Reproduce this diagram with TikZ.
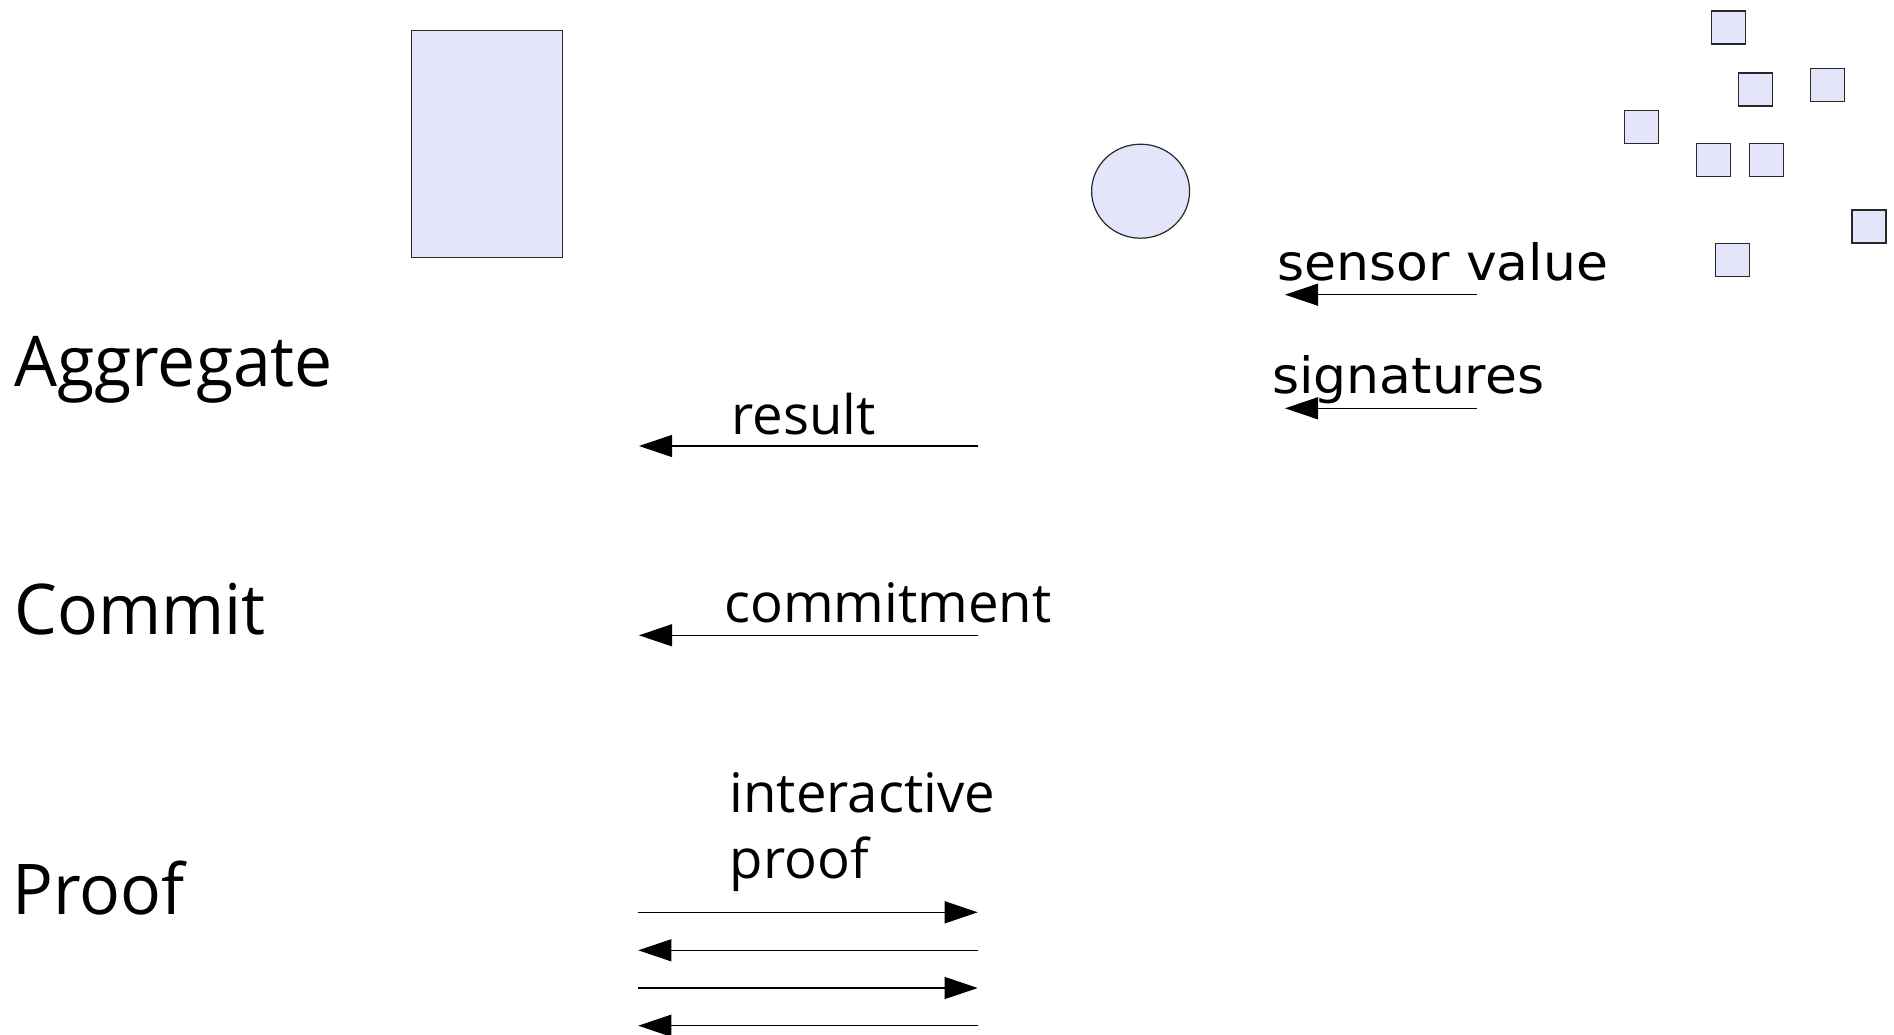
\documentclass[tikz,border=0pt]{standalone}
\usepackage{fontspec}
\usetikzlibrary{arrows.meta,shapes.geometric}
\newfontfamily\msgfont{Open Sans}
\newfontfamily\sidefont[FakeStretch=1.04]{DejaVu Sans}
\newfontfamily\stagefont[FakeStretch=0.97]{Open Sans}
\definecolor{partyfill}{RGB}{228,228,250}
\definecolor{partyedge}{RGB}{40,40,40}
\tikzset{
  party/.style={draw=partyedge, fill=partyfill, line width=1.2pt, inner sep=0pt},
  sensorbox/.style={party, rectangle, minimum width=34pt, minimum height=33pt},
  stagelabel/.style={anchor=base west, inner sep=0pt, font=\stagefont\fontsize{70}{84}\selectfont},
  msglabel/.style={anchor=base west, inner sep=0pt, align=left, font=\msgfont\fontsize{54.5}{66}\selectfont},
  sidelabel/.style={anchor=base west, inner sep=0pt, font=\sidefont\fontsize{50}{60}\selectfont},
  msg/.style={line width=1.2pt, -{Triangle[length=33pt, width=22pt]}}
}
\begin{document}
\begin{tikzpicture}[x=1pt, y=-1pt]
\useasboundingbox (0,0) rectangle (1894,1035);

% parties: verifier, aggregator, sensors
\node[party, rectangle, minimum width=151pt, minimum height=227pt] (verifier) at (487,144) {};
\node[party, ellipse, minimum width=98pt, minimum height=94pt] (aggregator) at (1140.6,191.2) {};
\node[sensorbox] (s1) at (1728.7,27.5) {};
\node[sensorbox] (s2) at (1755.2,89.5) {};
\node[sensorbox] (s3) at (1827.2,84.7) {};
\node[sensorbox] (s4) at (1641.8,127.3) {};
\node[sensorbox] (s5) at (1713.5,160) {};
\node[sensorbox] (s6) at (1766.5,160) {};
\node[sensorbox] (s7) at (1868.9,226.5) {};
\node[sensorbox] (s8) at (1732.7,259.7) {};

% protocol stages
\node[stagelabel] (aggregate) at (14,386.6) {Aggregate};
\node[stagelabel] (commit) at (14,634) {Commit};
\node[stagelabel] (proof) at (12,914.4) {Proof};

% sensors to aggregator
\node[sidelabel] (sensorvalue) at (1277,280.5) {sensor value};
\node[sidelabel] (signatures) at (1272,393) {signatures};
\coordinate (sv-from) at (1477,294.7);
\coordinate (sv-to) at (1285,294.7);
\coordinate (sg-from) at (1477,408.3);
\coordinate (sg-to) at (1285,408.3);
\draw[msg] (sv-from) -- (sv-to);
\draw[msg] (sg-from) -- (sg-to);

% aggregator to verifier
\node[msglabel] (result) at (731.5,434.5) {result};
\node[msglabel] (commitment) at (724,622) {commitment};
\node[msglabel] (interactive) at (729.5,878) {interactive\\proof};

\coordinate (res-from) at (978.3,446);
\coordinate (res-to) at (639,446);
\coordinate (com-from) at (978.3,635.3);
\coordinate (com-to) at (639,635.3);
\draw[msg] (res-from) -- (res-to);
\draw[msg] (com-from) -- (com-to);

% interactive proof rounds
\coordinate (p1-l) at (638.3,912.3);
\coordinate (p1-r) at (977.7,912.3);
\coordinate (p2-l) at (638.3,950.3);
\coordinate (p2-r) at (977.7,950.3);
\coordinate (p3-l) at (638.3,988);
\coordinate (p3-r) at (977.7,988);
\coordinate (p4-l) at (638.3,1025.7);
\coordinate (p4-r) at (977.7,1025.7);
\draw[msg] (p1-l) -- (p1-r);
\draw[msg] (p2-r) -- (p2-l);
\draw[msg] (p3-l) -- (p3-r);
\draw[msg] (p4-r) -- (p4-l);
\end{tikzpicture}
\end{document}
